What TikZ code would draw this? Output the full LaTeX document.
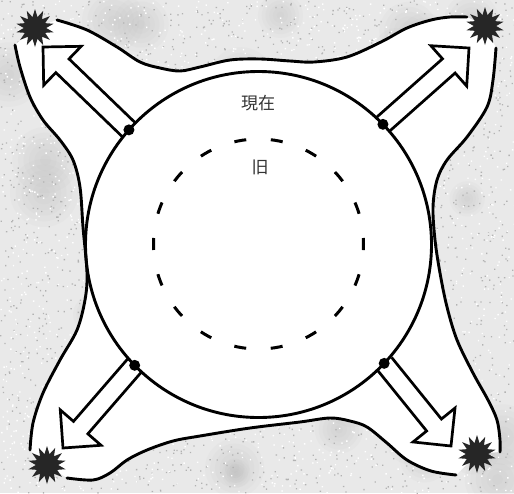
\documentclass[tikz,border=0pt]{standalone}
\usepackage{fontspec}
\newfontfamily\cjk{Noto Sans CJK JP}
\usetikzlibrary{calc,shapes.geometric}
\newcommand\hollowarrow[2]{%
  \coordinate (hb) at ($(#2)!27pt!(#1)$);
  \draw[arr] ($(#1)!9.5pt!90:(#2)$) -- ($(hb)!9.5pt!90:(#2)$) -- ($(hb)!27pt!90:(#2)$) -- (#2)
    -- ($(hb)!27pt!-90:(#2)$) -- ($(hb)!9.5pt!-90:(#2)$) -- ($(#1)!9.5pt!-90:(#2)$);
}
\def\toppts{(57,20) (87,30) (117,47) (140,62) (160,68) (180,71) (200,67) (230,60) (260,59) (290,61) (314,62) (347,57) (381,42) (407,28) (431,20) (450,17) (467,17)}
\def\rightpts{(496,48) (493,80) (487,107) (467,137) (447,160) (437,180) (433,207) (435,240) (440,273) (447,307) (457,340) (473,373) (488,400) (497,420) (500,440) (500,452)}
\def\bottompts{(456,475) (431,471) (407,460) (387,443) (367,427) (350,421) (330,418) (300,422) (250,428) (200,436) (173,441) (147,450) (127,460) (110,473) (93,480) (67,478)}
\def\leftpts{(30,450) (33,423) (43,393) (60,360) (77,330) (85,300) (87,273) (83,227) (80,187) (73,160) (60,140) (43,120) (30,97) (20,67) (15,45)}
\begin{document}
\begin{tikzpicture}[x=1pt,y=-1pt,
  bd/.style={line width=2.9pt, line cap=round},
  arr/.style={line width=2.7pt, line join=miter, line cap=butt},
  burst/.style={star, star points=14, star point ratio=1.7, fill=black!85, draw=none, inner sep=0pt, minimum size=38pt},
  lbl/.style={font={\cjk\fontsize{17pt}{20pt}\selectfont}, text=black!80, inner sep=0pt}]
\useasboundingbox (0,0) rectangle (514,493);
% textured background
\pgfmathsetseed{3}
\fill[gray!17] (0,0) rectangle (514,493);
\foreach \i in {1,...,35}{
  \pgfmathsetmacro\bx{514*rnd}\pgfmathsetmacro\by{493*rnd}\pgfmathsetmacro\br{14+20*rnd}
  \foreach \k in {1,...,6}{
    \fill[gray!70, opacity=0.05] (\bx,\by) circle ({\br*(1-(\k-1)/6)*1pt});
  }
}
\fill[gray!60] \foreach \i in {1,...,2400}{ (514*rnd,493*rnd) rectangle ++(1.3,1.3) };
\fill[white] \foreach \i in {1,...,2000}{ (514*rnd,493*rnd) rectangle ++(1.4,1.4) };
% white interior
\edef\interiorfill{\noexpand\fill[white] (35,28) -- plot[smooth,tension=0.55] coordinates {\toppts} -- (485,26) -- plot[smooth,tension=0.55] coordinates {\rightpts} -- (477,454) -- plot[smooth,tension=0.55] coordinates {\bottompts} -- (47,465) -- plot[smooth,tension=0.55] coordinates {\leftpts} -- cycle;}
\interiorfill
\edef\drawcurves{\noexpand\draw[bd] plot[smooth,tension=0.55] coordinates {\toppts} plot[smooth,tension=0.55] coordinates {\rightpts} plot[smooth,tension=0.55] coordinates {\bottompts} plot[smooth,tension=0.55] coordinates {\leftpts};}
\drawcurves
% circles
\coordinate (C) at (258.5,244.5);
\draw[bd] (C) circle (173pt);
\draw[line width=3pt, dash pattern=on 12pt off 24.65pt, dash phase=6pt] (258.5,244) circle (105pt);
% dots and tips
\coordinate (dTL) at ($(C)+(-138.5:173)$);
\coordinate (dTR) at ($(C)+(-44:173)$);
\coordinate (dBL) at ($(C)+(135.7:173)$);
\coordinate (dBR) at ($(C)+(43.4:173)$);
\coordinate (tTL) at (43,47);
\coordinate (tTR) at (469,48);
\coordinate (tBL) at (63,448);
\coordinate (tBR) at (451,446);
\hollowarrow{dTL}{tTL}
\hollowarrow{dTR}{tTR}
\hollowarrow{dBL}{tBL}
\hollowarrow{dBR}{tBR}
\foreach \d in {dTL,dTR,dBL,dBR}{\fill (\d) circle (5.5pt);}
% bursts
\node[burst] (sTL) at (35,28) {};
\node[burst] (sTR) at (485,26) {};
\node[burst] (sBL) at (47,465) {};
\node[burst] (sBR) at (477,454) {};
% labels
\node[lbl] (now) at (258,103) {現在};
\node[lbl] (old) at (260,167) {旧};
\end{tikzpicture}
\end{document}
